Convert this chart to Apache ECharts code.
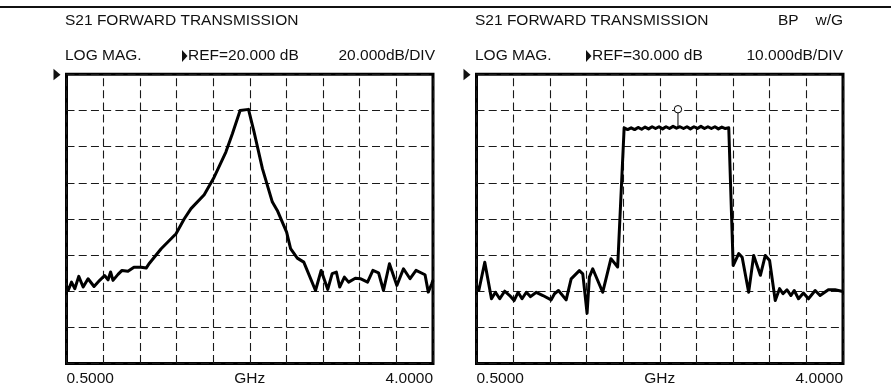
<!DOCTYPE html>
<html>
<head>
<meta charset="utf-8">
<script src="https://cdn.jsdelivr.net/npm/echarts@6/dist/echarts.min.js"></script>
<style>
html,body{margin:0;padding:0;background:#fff;}
#chart{width:891px;height:388px;}
</style>
</head>
<body>
<div id="chart"></div>
<script>
// ---------- data ----------
const xTickLabels = ['0.5000', '4.0000'];
const xAxisName = 'GHz';
const freqStartGHz = 0.5, freqStopGHz = 4.0;

const leftTitle = 'S21 FORWARD TRANSMISSION';
const leftFormat = 'LOG MAG.';
const leftRefText = 'REF=20.000 dB';
const leftScaleText = '20.000dB/DIV';
const leftRefDB = 20, leftDivDB = 20;

const rightTitle = 'S21 FORWARD TRANSMISSION';
const rightFlags = ['BP', 'w/G'];
const rightFormat = 'LOG MAG.';
const rightRefText = 'REF=30.000 dB';
const rightScaleText = '10.000dB/DIV';
const rightRefDB = 30, rightDivDB = 10;

const yDivisions = 8, xDivisions = 10;

const leftFreqGHz = [0.500, 0.516, 0.548, 0.579, 0.617, 0.659, 0.706, 0.763, 0.817, 0.864, 0.897, 0.921, 0.944, 0.992, 1.030, 1.087, 1.144, 1.213, 1.261, 1.292, 1.404, 1.546, 1.625, 1.689, 1.815, 1.910, 2.022, 2.085, 2.158, 2.238, 2.291, 2.371, 2.466, 2.513, 2.602, 2.640, 2.704, 2.766, 2.878, 2.932, 2.995, 3.037, 3.077, 3.109, 3.154, 3.194, 3.258, 3.306, 3.375, 3.426, 3.480, 3.527, 3.584, 3.655, 3.718, 3.781, 3.838, 3.924, 3.955, 3.988, 4.000];
const leftS21dB = [-97.0, -99.6, -95.0, -98.6, -91.8, -97.7, -93.1, -97.4, -94.0, -91.3, -93.7, -89.4, -94.0, -90.7, -88.5, -88.9, -86.7, -86.7, -87.2, -84.5, -76.5, -68.2, -59.9, -54.3, -46.6, -36.9, -23.0, -12.8, 0.0, 0.6, -11.9, -32.2, -50.7, -55.3, -67.3, -76.5, -81.7, -83.9, -99.6, -88.5, -99.0, -90.3, -89.4, -97.7, -92.2, -95.0, -92.8, -93.1, -95.0, -88.5, -89.8, -99.6, -84.8, -96.8, -87.6, -93.1, -88.5, -90.9, -100.5, -95.9, -94.0];

const rightFreqGHz = [0.500, 0.522, 0.579, 0.643, 0.681, 0.722, 0.769, 0.817, 0.859, 0.897, 0.935, 0.976, 1.016, 1.071, 1.134, 1.213, 1.245, 1.283, 1.356, 1.404, 1.482, 1.515, 1.556, 1.578, 1.610, 1.705, 1.784, 1.848,
  1.910, 1.943, 1.977, 2.010, 2.043, 2.077, 2.110, 2.143, 2.177, 2.210, 2.243, 2.277, 2.310, 2.343, 2.377, 2.410, 2.443, 2.477, 2.510, 2.543, 2.577, 2.610, 2.643, 2.677, 2.710, 2.743, 2.777, 2.810, 2.843, 2.876, 2.909,
  2.951, 3.004, 3.037, 3.099, 3.147, 3.211, 3.258, 3.299, 3.353, 3.394, 3.427, 3.465, 3.503, 3.534, 3.575, 3.622, 3.670, 3.734, 3.781, 3.860, 3.924, 3.988, 4.000];
const rightS21dB = [-28.5, -29.8, -22.0, -32.1, -30.3, -32.1, -30.0, -31.2, -32.6, -30.3, -32.1, -30.3, -31.5, -30.3, -31.2, -32.4, -30.7, -29.8, -32.4, -26.6, -24.3, -25.2, -36.1, -26.1, -23.8, -30.3, -21.0, -23.3,
  15.2, 14.7, 15.2, 14.7, 15.3, 14.8, 15.4, 14.9, 15.5, 15.0, 15.5, 14.9, 15.5, 15.0, 15.6, 15.1, 15.5, 15.0, 15.5, 14.9, 15.5, 15.0, 15.6, 15.0, 15.5, 15.0, 15.5, 14.9, 15.4, 15.0, 15.2,
  -22.9, -19.6, -20.6, -30.3, -20.1, -25.6, -20.1, -21.5, -32.6, -29.3, -30.7, -29.6, -31.2, -29.8, -32.1, -30.5, -32.1, -29.8, -31.2, -29.6, -29.6, -30.0, -30.0];

const markerFreqGHz = [2.424];
const markerDB = [15.3];

// ---------- chart ----------
const FONT = '"Liberation Sans", Arial, sans-serif';
const FS = 15.5;
const INK = '#111';
const chart = echarts.init(document.getElementById('chart'), null, {renderer: 'canvas'});

const grids = [
  {left: 66.5, top: 74.3, width: 366.5, height: 289.2},
  {left: 476.5, top: 74.3, width: 366.5, height: 289.2}
];

function dataAxis(gi) {
  return {
    gridIndex: gi, type: 'value', min: freqStartGHz, max: freqStopGHz, interval: 0.5, position: 'bottom',
    axisLine: {show: false}, axisTick: {show: false}, splitLine: {show: false},
    axisLabel: {
      show: true, margin: 7, fontSize: FS, fontFamily: FONT, color: INK,
      showMinLabel: true, showMaxLabel: true, alignMinLabel: 'left', alignMaxLabel: 'right',
      formatter: v => Math.abs(v - freqStartGHz) < 1e-9 ? xTickLabels[0] : (Math.abs(v - freqStopGHz) < 1e-9 ? xTickLabels[1] : '')
    },
    name: xAxisName, nameLocation: 'middle', nameGap: 7, nameMoveOverlap: false,
    nameTextStyle: {fontSize: FS, fontFamily: FONT, color: INK}
  };
}
function divAxis(gi) {
  return {
    gridIndex: gi, type: 'value', min: 0, max: xDivisions, interval: 1, position: 'top',
    axisLine: {show: false}, axisTick: {show: false}, axisLabel: {show: false},
    splitLine: {show: true, lineStyle: {color: '#1a1a1a', width: 1.1, type: [8, 4.03], dashOffset: 8}}
  };
}
function yAxis(gi, ref, div) {
  return {
    gridIndex: gi, type: 'value', min: ref - div * yDivisions, max: ref, interval: div,
    axisLine: {show: false}, axisTick: {show: false}, axisLabel: {show: false},
    splitLine: {show: true, lineStyle: {color: '#1a1a1a', width: 1.1, type: [8, 4.22], dashOffset: 0}}
  };
}

const traceStyle = {color: '#000', width: 3, join: 'round'};

const option = {
  animation: false,
  backgroundColor: '#fff',
  grid: grids.map(g => Object.assign({show: true, borderColor: '#000', borderWidth: 3, backgroundColor: 'transparent', containLabel: false, outerBoundsMode: 'none'}, g)),
  xAxis: [dataAxis(0), divAxis(0), dataAxis(1), divAxis(1)],
  yAxis: [yAxis(0, leftRefDB, leftDivDB), yAxis(1, rightRefDB, rightDivDB)],
  series: [
    {type: 'line', xAxisIndex: 0, yAxisIndex: 0, symbol: 'none', lineStyle: traceStyle, z: 5,
     data: leftFreqGHz.map((f, i) => [f, leftS21dB[i]])},
    {type: 'line', xAxisIndex: 2, yAxisIndex: 1, symbol: 'none', lineStyle: traceStyle, z: 5,
     data: rightFreqGHz.map((f, i) => [f, rightS21dB[i]])},
    {type: 'custom', xAxisIndex: 2, yAxisIndex: 1, z: 6,
     data: markerFreqGHz.map((f, i) => [f, markerDB[i]]),
     renderItem: function (params, api) {
       const p = api.coord([api.value(0), api.value(1)]);
       return {type: 'group', children: [
         {type: 'line', shape: {x1: p[0], y1: p[1], x2: p[0], y2: p[1] - 14.5}, style: {stroke: '#000', lineWidth: 1}},
         {type: 'circle', shape: {cx: p[0], cy: p[1] - 18.2, r: 3.7}, style: {fill: '#fff', stroke: '#000', lineWidth: 1}}
       ]};
     }}
  ]
};
chart.setOption(option);

// ---------- annotations ----------
function txt(x, y, s, align) {
  return {type: 'text', x: x, y: y, silent: true,
    style: {text: s, font: FS + 'px ' + FONT, fill: INK, align: align || 'left', verticalAlign: 'middle'}};
}
function smallTri(x, y) {
  return {type: 'polygon', silent: true, shape: {points: [[x, y - 6], [x + 5.5, y], [x, y + 6]]}, style: {fill: INK}};
}
const lRefY = chart.convertToPixel({yAxisIndex: 0}, leftRefDB);
const rRefY = chart.convertToPixel({yAxisIndex: 1}, rightRefDB);
function refTri(gx, y) {
  return {type: 'polygon', silent: true, shape: {points: [[gx - 13, y - 5.5], [gx - 6, y + 0.5], [gx - 13, y + 6]]}, style: {fill: INK}};
}
const L = grids[0], R = grids[1];
chart.setOption({graphic: [
  {type: 'line', silent: true, shape: {x1: 0, y1: 7, x2: 891, y2: 7}, style: {stroke: '#111', lineWidth: 2}},
  txt(65, 21, leftTitle),
  txt(65, 56, leftFormat),
  smallTri(182, 56),
  txt(188, 56, leftRefText),
  txt(L.left + L.width + 2, 56, leftScaleText, 'right'),
  txt(475, 21, rightTitle),
  txt(778, 21, rightFlags[0]),
  txt(843, 21, rightFlags[1], 'right'),
  txt(475, 56, rightFormat),
  smallTri(586, 56),
  txt(592, 56, rightRefText),
  txt(R.left + R.width, 56, rightScaleText, 'right'),
  refTri(L.left, lRefY),
  refTri(R.left, rRefY)
]});
</script>
</body>
</html>
